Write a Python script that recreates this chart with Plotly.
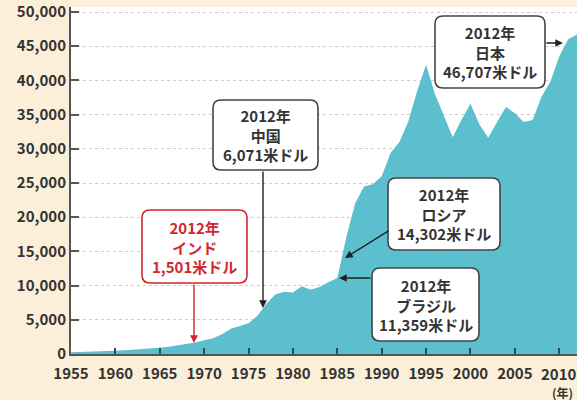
import plotly.graph_objects as go

years = list(range(1955, 2013))
gdp_per_capita = [
    250, 280, 310, 340, 390, 480, 560, 630, 720, 840,
    920, 1060, 1230, 1450, 1670, 2000, 2300, 2900, 3700, 4100,
    4500, 5600, 7300, 8700, 9100, 9000, 9900, 9400, 9800, 10500,
    11100, 17000, 22000, 24500, 24800, 26000, 29400, 31000, 34000, 38500,
    42300, 38000, 34800, 31700, 34300, 36600, 33600, 31600, 33900, 36100,
    35200, 33900, 34200, 37600, 39800, 43500, 46000, 46700,
]
x_ticks = list(range(1955, 2011, 5))
x_tick_labels = [str(v) for v in x_ticks]
y_ticks = list(range(0, 50001, 5000))

box_texts = {
    "china": "2012年<br>中国<br>6,071米ドル",
    "india": "2012年<br>インド<br>1,501米ドル",
    "japan": "2012年<br>日本<br>46,707米ドル",
    "russia": "2012年<br>ロシア<br>14,302米ドル",
    "brazil": "2012年<br>ブラジル<br>11,359米ドル",
}

W, H = 577, 400
L, R, T, B = 71, 0, 7, 46
PW, PH = W - L - R, H - T - B

def px(x):
    return (x - L) / PW

def py(y):
    return (H - B - y) / PH

def rrect(x0, y0, x1, y1, r=8):
    rx, ry = r / PW, r / PH
    X0, X1 = px(x0), px(x1)
    Yt, Yb = py(y0), py(y1)
    return (f"M {X0+rx},{Yt} L {X1-rx},{Yt} Q {X1},{Yt} {X1},{Yt-ry} "
            f"L {X1},{Yb+ry} Q {X1},{Yb} {X1-rx},{Yb} L {X0+rx},{Yb} "
            f"Q {X0},{Yb} {X0},{Yb+ry} L {X0},{Yt-ry} Q {X0},{Yt} {X0+rx},{Yt} Z")

fig = go.Figure()
fig.add_trace(go.Scatter(
    x=years, y=gdp_per_capita, mode="lines", fill="tozeroy",
    line=dict(width=0, color="#5bbfcd"), fillcolor="#5bbfcd",
    hoverinfo="skip", showlegend=False,
))

dark = "#444444"
red = "#d22630"
font_main = "Noto Sans CJK JP"

boxes = [
    ("china", (213, 100, 318, 170), dark),
    ("india", (142, 210, 247, 283), red),
    ("japan", (435, 16, 545, 88), dark),
    ("russia", (388, 178, 500, 250), dark),
    ("brazil", (372, 268, 479, 341), dark),
]
shapes = []
annotations = []
for key, (x0, y0, x1, y1), col in boxes:
    shapes.append(dict(type="path", xref="paper", yref="paper",
                       path=rrect(x0, y0, x1, y1), fillcolor="white",
                       line=dict(color=col, width=1.6), layer="above"))
    annotations.append(dict(xref="paper", yref="paper",
                            x=px((x0 + x1) / 2), y=py((y0 + y1) / 2),
                            text=box_texts[key], showarrow=False,
                            font=dict(family=font_main, size=15, weight="bold",
                                      color=col if col == red else "#333333"),
                            xanchor="center", yanchor="middle", align="center"))

arrows = [
    ((263, 308), (263, 170), "#222222"),
    ((194, 343), (194, 283), red),
    ((563, 43), (545, 43), "#222222"),
    ((345, 258), (390, 230), "#222222"),
    ((339, 278), (372, 278), "#222222"),
]
for (tx, ty), (sx, sy), col in arrows:
    annotations.append(dict(xref="paper", yref="paper", x=px(tx), y=py(ty),
                            ax=sx - tx, ay=sy - ty, text="", showarrow=True,
                            arrowhead=2, arrowsize=1.1, arrowwidth=1.4,
                            arrowcolor=col, standoff=0, startstandoff=0))

tickfont = dict(family=font_main, size=15, weight="bold", color="#333333")

# last x tick label sits at the right edge; draw it as an annotation so it is not dropped
annotations.append(dict(xref="x", yref="paper", x=x_ticks[-1], y=0, yshift=-19,
                        text=x_tick_labels[-1], showarrow=False, font=tickfont,
                        xanchor="center", yanchor="middle"))
annotations.append(dict(xref="paper", yref="paper", x=px(562), y=py(392),
                        text="(年)", showarrow=False,
                        font=dict(family=font_main, size=12, weight="bold", color="#333333"),
                        xanchor="center", yanchor="middle"))

fig.update_layout(
    width=W, height=H,
    margin=dict(l=L, r=R, t=T, b=B),
    paper_bgcolor="#fcefd9", plot_bgcolor="white",
    shapes=shapes, annotations=annotations,
    font=dict(family=font_main, size=14, color="#333333"),
    xaxis=dict(range=[1955, 2012], tickvals=x_ticks,
               ticktext=x_tick_labels[:-1] + [""], ticks="inside", ticklen=6,
               tickcolor="#2d4d57", tickwidth=1.5, showgrid=False, zeroline=False,
               showline=True, linecolor="#555555", linewidth=2,
               tickfont=tickfont, automargin=False, ticklabelstandoff=5),
    yaxis=dict(range=[0, 50731], tickvals=y_ticks, tickformat=",d", ticks="inside",
               ticklen=8, tickcolor="#555555", tickwidth=1.5,
               showgrid=True, gridcolor="#cccccc", griddash="dot", gridwidth=1,
               zeroline=False, showline=True, linecolor="#555555", linewidth=2,
               tickfont=tickfont, automargin=False),
)

fig.write_html(
    "out.html",
    config={"displayModeBar": False},
    post_script="document.body.style.margin='0';document.body.style.overflow='hidden';"
                "document.body.style.background='#fcefd9';",
)
